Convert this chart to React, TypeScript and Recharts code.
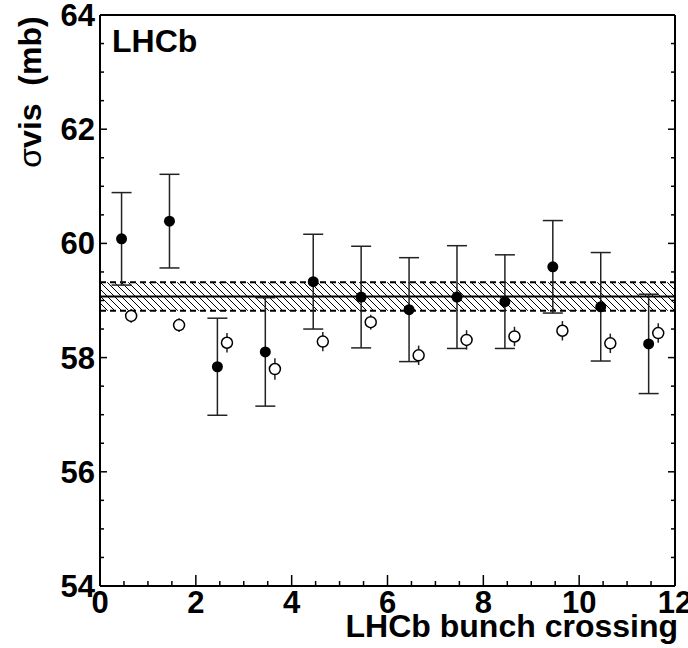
import React from 'react';
import {
  ScatterChart,
  Scatter,
  XAxis,
  YAxis,
  ErrorBar,
  ReferenceArea,
  ReferenceLine,
} from 'recharts';

// LHCb bunch crossings: filled = sigma_vis per crossing, open = second method
const bunchX = [0.45, 1.45, 2.45, 3.45, 4.45, 5.45, 6.45, 7.45, 8.45, 9.45, 10.45, 11.45];
const bunchSigma = [60.08, 60.39, 57.84, 58.1, 59.33, 59.06, 58.84, 59.06, 58.98, 59.59, 58.89, 58.24];
const bunchErr = [0.81, 0.82, 0.85, 0.95, 0.83, 0.89, 0.91, 0.9, 0.82, 0.81, 0.95, 0.87];

const openX = [0.65, 1.65, 2.65, 3.65, 4.65, 5.65, 6.65, 7.65, 8.65, 9.65, 10.65, 11.65];
const openSigma = [58.73, 58.57, 58.26, 57.8, 58.28, 58.62, 58.04, 58.31, 58.37, 58.47, 58.25, 58.43];
const openErr = [0.12, 0.12, 0.17, 0.19, 0.17, 0.13, 0.17, 0.17, 0.17, 0.17, 0.17, 0.17];

const meanSigma = 59.07;
const bandLow = 58.82;
const bandHigh = 59.32;

const xTicks = [0, 0.5, 1, 1.5, 2, 2.5, 3, 3.5, 4, 4.5, 5, 5.5, 6, 6.5, 7, 7.5, 8, 8.5, 9, 9.5, 10, 10.5, 11, 11.5, 12];
const yTicks = [54, 54.5, 55, 55.5, 56, 56.5, 57, 57.5, 58, 58.5, 59, 59.5, 60, 60.5, 61, 61.5, 62, 62.5, 63, 63.5, 64];

const filled = bunchX.map((x, i) => ({ x, y: bunchSigma[i], err: bunchErr[i] }));
const open = openX.map((x, i) => ({ x, y: openSigma[i], err: openErr[i] }));

const FONT = 'Liberation Sans, Arial, Helvetica, sans-serif';
const isMajor = (v: number) => Math.abs(v / 2 - Math.round(v / 2)) < 1e-6;

const BottomTick = (props: any) => {
  const { x, y, payload } = props;
  const major = isMajor(payload.value);
  return (
    <g>
      <line x1={x} y1={y} x2={x} y2={y - (major ? 11 : 5)} stroke="#000" strokeWidth={1.5} />
      {major && (
        <text x={x} y={y + 27} textAnchor="middle" fontFamily={FONT} fontWeight="bold" fontSize={31} fill="#000">
          {payload.value}
        </text>
      )}
    </g>
  );
};

const TopTick = (props: any) => {
  const { x, y, payload } = props;
  const major = isMajor(payload.value);
  return <line x1={x} y1={y} x2={x} y2={y + (major ? 11 : 5)} stroke="#000" strokeWidth={1.5} />;
};

const LeftTick = (props: any) => {
  const { x, y, payload } = props;
  const major = isMajor(payload.value);
  return (
    <g>
      <line x1={x} y1={y} x2={x + (major ? 7 : 4)} y2={y} stroke="#000" strokeWidth={1.5} />
      {major && (
        <text x={x - 5} y={y + 11} textAnchor="end" fontFamily={FONT} fontWeight="bold" fontSize={31} fill="#000">
          {payload.value}
        </text>
      )}
    </g>
  );
};

const RightTick = (props: any) => {
  const { x, y, payload } = props;
  const major = isMajor(payload.value);
  return <line x1={x} y1={y} x2={x - (major ? 7 : 4)} y2={y} stroke="#000" strokeWidth={1.5} />;
};

const FilledDot = (p: any) => <circle cx={p.cx} cy={p.cy} r={5.5} fill="#000" />;
const OpenDot = (p: any) => <circle cx={p.cx} cy={p.cy} r={5.5} fill="#fff" stroke="#000" strokeWidth={1.5} />;

const App = () => {
  return (
    <div style={{ position: 'absolute', left: 0, top: 0 }}>
      <ScatterChart width={688} height={648} margin={{ top: 0, right: 0, bottom: 0, left: 0 }}>
        <defs>
          <pattern id="hatch" patternUnits="userSpaceOnUse" width={7} height={7}>
            <path d="M0,0 L7,7 M-1,6 L1,8 M6,-1 L8,1" stroke="#000" strokeWidth={1} />
          </pattern>
        </defs>
        <XAxis
          dataKey="x"
          type="number"
          domain={[0, 12]}
          ticks={xTicks}
          interval={0}
          height={62}
          tickSize={0}
          tickMargin={0}
          tickLine={false}
          tick={<BottomTick />}
          axisLine={{ stroke: '#000', strokeWidth: 2 }}
          allowDataOverflow
        />
        <XAxis
          xAxisId="top"
          orientation="top"
          type="number"
          domain={[0, 12]}
          ticks={xTicks}
          interval={0}
          height={15}
          tickSize={0}
          tickMargin={0}
          tickLine={false}
          tick={<TopTick />}
          axisLine={{ stroke: '#000', strokeWidth: 2 }}
          allowDataOverflow
        />
        <YAxis
          dataKey="y"
          type="number"
          domain={[54, 64]}
          ticks={yTicks}
          interval={0}
          width={100}
          tickSize={0}
          tickMargin={0}
          tickLine={false}
          tick={<LeftTick />}
          axisLine={{ stroke: '#000', strokeWidth: 2 }}
          allowDataOverflow
        />
        <YAxis
          yAxisId="right"
          orientation="right"
          type="number"
          domain={[54, 64]}
          ticks={yTicks}
          interval={0}
          width={13}
          tickSize={0}
          tickMargin={0}
          tickLine={false}
          tick={<RightTick />}
          axisLine={{ stroke: '#000', strokeWidth: 2 }}
          allowDataOverflow
        />
        <ReferenceArea y1={bandLow} y2={bandHigh} fill="url(#hatch)" fillOpacity={1} stroke="none" />
        <ReferenceLine y={bandHigh} stroke="#000" strokeWidth={2} strokeDasharray="6 4" />
        <ReferenceLine y={bandLow} stroke="#000" strokeWidth={2} strokeDasharray="6 4" />
        <ReferenceLine y={meanSigma} stroke="#000" strokeWidth={2} />
        <Scatter data={filled} shape={FilledDot} isAnimationActive={false}>
          <ErrorBar dataKey="err" direction="y" width={10} stroke="#222" strokeWidth={1.5} isAnimationActive={false} />
        </Scatter>
        <Scatter data={open} shape={OpenDot} isAnimationActive={false}>
          <ErrorBar dataKey="err" direction="y" width={0} stroke="#222" strokeWidth={1.5} isAnimationActive={false} />
        </Scatter>
        <text x={112} y={52} fontFamily={FONT} fontWeight="bold" fontSize={32} fill="#000">
          LHCb
        </text>
        <text x={678} y={637} textAnchor="end" fontFamily={FONT} fontWeight="bold" fontSize={32} fill="#000">
          LHCb bunch crossing
        </text>
        <text
          x={41}
          y={92}
          transform="rotate(-90 41 92)"
          textAnchor="middle"
          fontFamily={FONT}
          fontWeight="bold"
          fontSize={32}
          fill="#000"
          xmlSpace="preserve"
        >
          <tspan fontWeight="normal">σ</tspan>vis  (mb)
        </text>
      </ScatterChart>
    </div>
  );
};

export default App;
